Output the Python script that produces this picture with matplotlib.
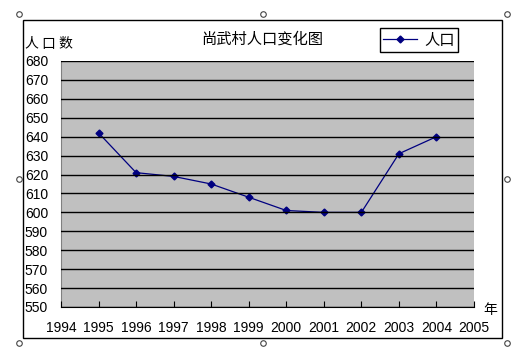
import matplotlib
matplotlib.use("Agg")
import matplotlib.pyplot as plt
from matplotlib.patches import Rectangle

plt.rcParams['font.family'] = ['Noto Sans CJK SC', 'DejaVu Sans']

years = [1995, 1996, 1997, 1998, 1999, 2000, 2001, 2002, 2003, 2004]
population = [642, 621, 619, 615, 608, 601, 600, 600, 631, 640]
x_ticks = list(range(1994, 2006))
y_ticks = list(range(550, 690, 10))

W, H = 529, 354
fig = plt.figure(figsize=(W / 100, H / 100), dpi=100)

# outer chart frame
fig.patches.append(Rectangle((23 / W, 1 - 338 / H), (502 - 23) / W, (338 - 20) / H,
                             transform=fig.transFigure, fill=False,
                             edgecolor='black', linewidth=1.0))

# selection handles
for hx, hy in [(19, 14), (263, 14), (507, 14), (19, 179), (507, 179),
               (19, 343), (263, 343), (507, 343)]:
    fig.add_artist(plt.Line2D([hx / W], [1 - hy / H], marker='o', markersize=4,
                              markerfacecolor='white', markeredgecolor='#444444',
                              markeredgewidth=0.8, transform=fig.transFigure))

ax = fig.add_axes([61 / W, 1 - 307 / H, (474 - 61) / W, (307 - 61) / H])
ax.set_facecolor('#C0C0C0')

ax.plot(years, population, color='#000080', linewidth=0.9, marker='D',
        markersize=3.5, label='人口')

ax.set_xlim(1994, 2005)
ax.set_ylim(550, 680)
ax.set_xticks(x_ticks)
ax.set_yticks(y_ticks)
ax.set_xticklabels([str(v) for v in x_ticks], fontsize=10, family='Liberation Sans')
ax.set_yticklabels([str(v) for v in y_ticks], fontsize=10, family='Liberation Sans')
for lbl in ax.get_yticklabels():
    lbl.set_horizontalalignment('left')

ax.grid(axis='y', color='black', linewidth=1.0)
ax.set_axisbelow(False)
ax.tick_params(axis='x', direction='in', length=4, width=0.8, pad=10)
ax.tick_params(axis='y', length=0, pad=26)

for s in ['top', 'right']:
    ax.spines[s].set_visible(False)
ax.spines['left'].set_color('#808080')
ax.spines['left'].set_linewidth(0.8)
ax.spines['bottom'].set_color('black')

fig.text(262 / W, 1 - 39 / H, '尚武村人口变化图', ha='center', va='center', fontsize=11)
fig.text(25 / W, 1 - 44 / H, '人 口 数', ha='left', va='center', fontsize=10)
fig.text(490 / W, 1 - 310 / H, '年', ha='center', va='center', fontsize=10)

leg = ax.legend(loc='center', bbox_to_anchor=(419 / W, 1 - 40 / H),
                bbox_transform=fig.transFigure, fontsize=11, frameon=True,
                fancybox=False, edgecolor='black', framealpha=1,
                handlelength=2.2, borderpad=0.2, handletextpad=0.5)
leg.get_frame().set_linewidth(1.0)

fig.savefig('out.png', dpi=100)
